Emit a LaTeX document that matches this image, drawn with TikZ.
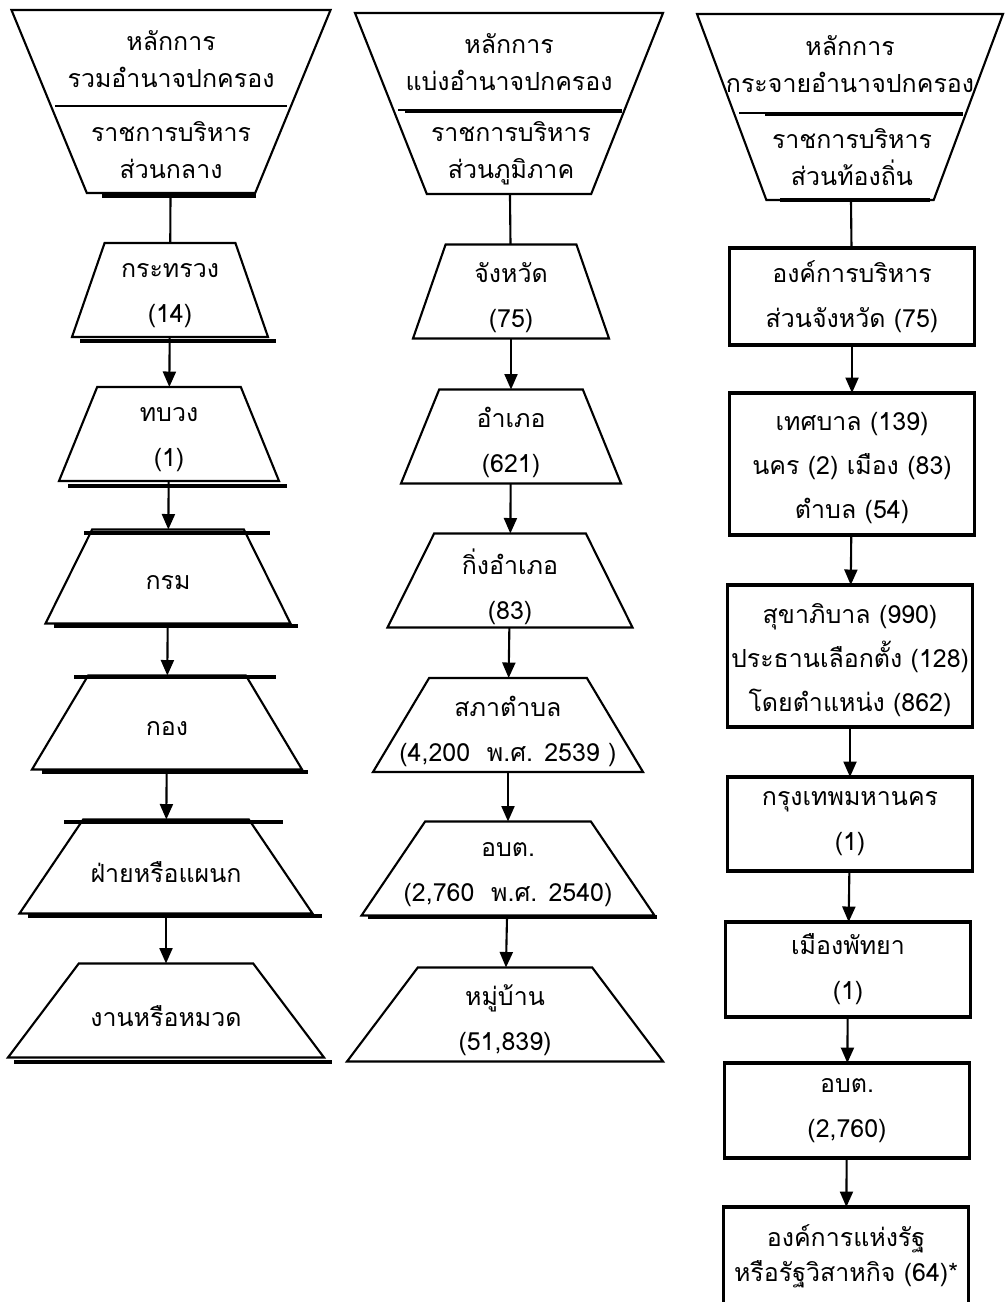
\documentclass[tikz,border=0pt]{standalone}
\usepackage{fontspec}
\setmainfont{Liberation Sans}
\newfontfamily\thaifont[Script=Thai]{Loma}
\usetikzlibrary{shapes.geometric,arrows.meta}

\tikzset{
  trap/.style={draw, trapezium, trapezium stretches=true, inner sep=1pt, outer sep=0pt, line width=0.6pt, minimum height=9.4mm},
  funnel/.style={trap, shape border rotate=180},
  rbox/.style={draw, rectangle, inner sep=0pt, outer sep=0pt, line width=0.9pt, minimum width=24.5mm},
  txt/.style={align=center, inner sep=0pt, font=\thaifont\fontsize{7.1}{12.8}\selectfont},
  ttxt/.style={txt, yshift=-0.6mm},
  ftxt/.style={txt, font=\thaifont\fontsize{7.1}{10.5}\selectfont},
  arr/.style={-{Triangle[length=4.4pt,width=3.7pt]}, line width=0.6pt},
  smear/.style={line width=1.1pt}
}

\begin{document}
\begin{tikzpicture}[x=0.1mm,y=-0.1mm]
            \useasboundingbox (0,0) rectangle (1005,1302);

            % funnels
            \node[funnel, trapezium angle=65.9, minimum width=31.9mm, minimum height=18.3mm] (c1) at (171,101.5) {};
            \node[funnel, trapezium angle=66.4, minimum width=30.8mm, minimum height=18.1mm] (c2) at (509,103.5) {};
            \node[funnel, trapezium angle=67.5, minimum width=30.6mm, minimum height=18.6mm] (c3) at (850,107) {};
            \draw[line width=0.6pt] (55,106) -- (287,106);
            \draw[line width=0.6pt] (398,110) -- (620,110);
            \draw[line width=0.6pt] (739,113) -- (961,113);

            \node[ftxt] (c1at) at (171,59) {หลักการ\\รวมอำนาจปกครอง};
            \node[ftxt] (c1bt) at (171,150) {ราชการบริหาร\\ส่วนกลาง};
            \node[ftxt] (c2at) at (509,62) {หลักการ\\แบ่งอำนาจปกครอง};
            \node[ftxt] (c2bt) at (511,153) {ราชการบริหาร\\ส่วนภูมิภาค};
            \node[ftxt] (c3at) at (850,64) {หลักการ\\กระจายอำนาจปกครอง};
            \node[ftxt] (c3bt) at (852,157) {ราชการบริหาร\\ส่วนท้องถิ่น};

            % central
            \node[trap, trapezium angle=76, minimum width=19.6mm] (k1) at (170,290) {};
            \node[trap, trapezium angle=75.1, minimum width=22mm] (k2) at (169,434) {};
            \node[trap, trapezium angle=72.9, minimum width=24.5mm] (k3) at (168,576.5) {};
            \node[trap, trapezium angle=70.4, minimum width=27mm] (k4) at (167,722.5) {};
            \node[trap, trapezium angle=69, minimum width=29.3mm] (k5) at (166,866.5) {};
            \node[trap, trapezium angle=67.9, minimum width=31.6mm] (k6) at (166,1010.5) {};

            \node[ttxt] (k1t) at (k1) {กระทรวง\\(14)};
            \node[ttxt] (k2t) at (k2) {ทบวง\\(1)};
            \node[ttxt] (k3t) at (k3) {กรม};
            \node[ttxt] (k4t) at (k4) {กอง};
            \node[ttxt] (k5t) at (k5) {ฝ่ายหรือแผนก};
            \node[ttxt] (k6t) at (k6) {งานหรือหมวด};

            % regional
            \node[trap, trapezium angle=76, minimum width=19.6mm] (j1) at (511,291.5) {};
            \node[trap, trapezium angle=75.1, minimum width=22mm] (j2) at (511,436.5) {};
            \node[trap, trapezium angle=72.9, minimum width=24.5mm] (j3) at (510,580.5) {};
            \node[trap, trapezium angle=70.4, minimum width=27mm] (j4) at (508,725) {};
            \node[trap, trapezium angle=69, minimum width=29.3mm] (j5) at (508,868.5) {};
            \node[trap, trapezium angle=67.9, minimum width=31.6mm] (j6) at (505,1014.5) {};

            \node[ttxt] (j1t) at (j1) {จังหวัด\\(75)};
            \node[ttxt] (j2t) at (j2) {อำเภอ\\(621)};
            \node[ttxt] (j3t) at (j3) {กิ่งอำเภอ\\(83)};
            \node[ttxt] (j4t) at (j4) {สภาตำบล\\(4,200~~พ.ศ. 2539 )};
            \node[ttxt] (j5t) at (j5) {อบต.\\(2,760~~พ.ศ. 2540)};
            \node[ttxt] (j6t) at (j6) {หมู่บ้าน\\(51,839)};

            % local
            \node[rbox, minimum height=9.7mm] (r1) at (852,296.5) {};
            \node[rbox, minimum height=14.2mm] (r2) at (852,464) {};
            \node[rbox, minimum height=14.2mm] (r3) at (850,656) {};
            \node[rbox, minimum height=9.4mm] (r4) at (850,824) {};
            \node[rbox, minimum height=9.5mm] (r5) at (848,969.5) {};
            \node[rbox, minimum height=9.5mm] (r6) at (847,1110.5) {};
            \node[rbox, minimum height=9.8mm] (r7) at (846,1256) {};

            \node[txt] (r1t) at (r1) {องค์การบริหาร\\ส่วนจังหวัด (75)};
            \node[txt, yshift=-0.4mm, font=\thaifont\fontsize{7.1}{12.5}\selectfont] (r2t) at (r2) {เทศบาล (139)\\นคร (2) เมือง (83)\\ตำบล (54)};
            \node[txt, yshift=-0.4mm, font=\thaifont\fontsize{7.1}{12.5}\selectfont] (r3t) at (r3) {สุขาภิบาล (990)\\ประธานเลือกตั้ง (128)\\โดยตำแหน่ง (862)};
            \node[txt] (r4t) at (r4) {กรุงเทพมหานคร\\(1)};
            \node[txt] (r5t) at (r5) {เมืองพัทยา\\(1)};
            \node[txt] (r6t) at (r6) {อบต.\\(2,760)};
            \node[txt, font=\thaifont\fontsize{7.1}{10}\selectfont] (r7t) at (r7) {องค์การแห่งรัฐ\\หรือรัฐวิสาหกิจ (64)*};

            % links
            \draw[line width=0.6pt] (c1) -- (k1);
            \draw[arr] (k1) -- (k2);
            \draw[arr] (k2) -- (k3);
            \draw[arr] (k3) -- (k4);
            \draw[arr] (k4) -- (k5);
            \draw[arr] (k5) -- (k6);

            \draw[line width=0.6pt] (c2) -- (j1);
            \draw[arr] (j1) -- (j2);
            \draw[arr] (j2) -- (j3);
            \draw[arr] (j3) -- (j4);
            \draw[arr] (j4) -- (j5);
            \draw[arr] (j5) -- (j6);

            \draw[line width=0.6pt] (c3) -- (r1);
            \draw[arr] (r1) -- (r2);
            \draw[arr] (r2) -- (r3);
            \draw[arr] (r3) -- (r4);
            \draw[arr] (r4) -- (r5);
            \draw[arr] (r5) -- (r6);
            \draw[arr] (r6) -- (r7);

            % thick smudged edges
            \draw[smear] (102,196) -- (256,196);
            \draw[smear] (80,341) -- (276,341);
            \draw[smear] (68,486) -- (287,486);
            \draw[smear] (84,533) -- (270,533);
            \draw[smear] (54,626) -- (298,626);
            \draw[smear] (74,677) -- (276,677);
            \draw[smear] (42,772) -- (308,772);
            \draw[smear] (64,822) -- (283,822);
            \draw[smear] (28,916) -- (322,916);
            \draw[smear] (14,1062) -- (332,1062);
            \draw[smear] (405,111) -- (622,111);
            \draw[smear] (368,917) -- (657,917);
            \draw[smear] (765,114) -- (963,114);
            \draw[smear] (780,200) -- (930,200);
        \end{tikzpicture}
\end{document}
